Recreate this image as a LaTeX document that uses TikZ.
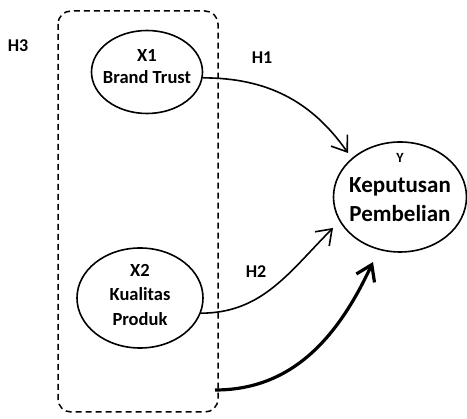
\documentclass[tikz,border=0pt]{standalone}
\usepackage{fontspec}
\setmainfont{Carlito}
\usetikzlibrary{shapes.geometric,arrows.meta}
\begin{document}
\begin{tikzpicture}[x=1pt,y=-1pt,
  var/.style={ellipse,draw,line width=1.6pt,inner sep=0pt},
  txt/.style={align=center,inner sep=0pt},
  lbl/.style={font=\bfseries\fontsize{18}{20}\selectfont},
  path/.style={line width=1.6pt,-{Straight Barb[length=14pt,width=20pt,line width=1.6pt]}},
  bigpath/.style={line width=3.2pt,-{Straight Barb[length=15pt,width=20pt,line width=3.2pt]}}]
\useasboundingbox (0,0) rectangle (467,419);
\draw[line width=1.5pt,dash pattern=on 6pt off 4pt,rounded corners=13pt] (58,11) rectangle (218,412);
\node[lbl] (h3) at (18,46) {H3};
\node[var,minimum width=111pt,minimum height=83pt] (x1) at (147,72) {};
\node[txt,font=\bfseries\fontsize{18.5}{22}\selectfont] (x1t) at (147,67) {X1\\Brand Trust};
\node[var,minimum width=126pt,minimum height=100pt] (x2) at (140,298) {};
\node[txt,font=\bfseries\fontsize{18.5}{24.5}\selectfont] (x2t) at (140,295) {X2\\Kualitas\\Produk};
\node[var,minimum width=133pt,minimum height=110pt] (y) at (400,197) {};
\node[txt,font=\bfseries\fontsize{14}{16}\selectfont] (yl) at (400,158) {Y};
\node[txt,font=\bfseries\fontsize{23}{29}\selectfont] (yt) at (400,200) {Keputusan\\Pembelian};
\node[lbl] (h1) at (262,58) {H1};
\node[lbl] (h2) at (256,272) {H2};
\coordinate (s3) at (215,390);
\coordinate (t1) at (348,153);
\coordinate (t2) at (333,228);
\coordinate (t3) at (373,262);
\draw[path] (x1.-6) to[out=0,in=125] (t1);
\draw[path] (x2.-14) to[out=0,in=225] (t2);
\draw[bigpath] (s3) to[out=0,in=245] (t3);
\end{tikzpicture}
\end{document}
